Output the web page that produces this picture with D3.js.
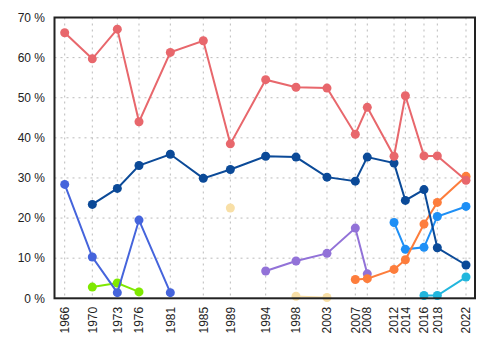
<!DOCTYPE html>
<html>
<head>
<meta charset="utf-8">
<script src="https://cdn.jsdelivr.net/npm/d3@7"></script>
<style>
body { margin: 0; background: #fff; }
text { font-family: "Liberation Sans", Arial, sans-serif; }
</style>
</head>
<body>
<script>
var width = 500;
var height = 350;
var margin = {top: 17.5, right: 25, bottom: 52, left: 54.5};

// election dates (approximate, read off the spacing of the x axis)
var dates = ["1966-07-01", "1970-05-08", "1973-11-02", "1976-11-10", "1981-03-25", "1985-10-30",
             "1989-08-08", "1994-07-13", "1998-10-05", "2003-01-30", "2007-01-12", "2008-09-13",
             "2012-06-07", "2014-01-05", "2016-08-11", "2018-06-21", "2022-06-21"];
var yTicks = [0, 10, 20, 30, 40, 50, 60, 70];

// one array per party, null = no result
var red      = [66.2, 59.7, 67.1, 44.0, 61.3, 64.2, 38.5, 54.5, 52.6, 52.4, 40.9, 47.6, 35.4, 50.5, 35.5, 35.5, 29.4];
var darkBlue = [null, 23.4, 27.4, 33.1, 35.9, 29.9, 32.1, 35.4, 35.2, 30.2, 29.2, 35.2, 33.7, 24.4, 27.1, 12.6, 8.3];
var royal    = [28.4, 10.3, 1.4, 19.5, 1.4, null, null, null, null, null, null, null, null, null, null, null, null];
var green    = [null, 2.8, 3.8, 1.6, null, null, null, null, null, null, null, null, null, null, null, null, null];
var wheat    = [null, null, null, null, null, null, 22.5, null, 0.5, 0.2, null, null, null, null, null, null, null];
var purple   = [null, null, null, null, null, null, null, 6.8, 9.3, 11.2, 17.5, 6.1, null, null, null, null, null];
var orange   = [null, null, null, null, null, null, null, null, null, null, 4.7, 4.9, 7.2, 9.6, 18.5, 23.9, 30.4];
var dodger   = [null, null, null, null, null, null, null, null, null, null, null, null, 18.9, 12.2, 12.7, 20.4, 22.9];
var cyan     = [null, null, null, null, null, null, null, null, null, null, null, null, null, null, 0.7, 0.7, 5.3];

var series = [
    {values: wheat, color: "#f8dfa6"},
    {values: green, color: "#7fe800"},
    {values: royal, color: "#4564dc"},
    {values: purple, color: "#9272d8"},
    {values: cyan, color: "#22b6dd"},
    {values: dodger, color: "#1e8ff5"},
    {values: orange, color: "#fd7d3c"},
    {values: darkBlue, color: "#0b4a98"},
    {values: red, color: "#e8676c"}
];

var parseDate = d3.timeParse("%Y-%m-%d");
var times = dates.map(parseDate);

var svg = d3.select("body").append("svg")
    .attr("width", width)
    .attr("height", height);

var xScale = d3.scaleTime()
    .domain(d3.extent(times))
    .range([64.7, 466]);

var yScale = d3.scaleLinear()
    .domain([0, 70])
    .range([height - margin.bottom + 0.3, margin.top]);

var x0 = margin.left, x1 = width - margin.right;
var y0 = yScale(0), y1 = yScale(70);

// grid
svg.append("g")
    .selectAll("line")
    .data(times)
    .enter().append("line")
    .attr("x1", function(d) { return xScale(d); })
    .attr("x2", function(d) { return xScale(d); })
    .attr("y1", y1)
    .attr("y2", y0)
    .attr("stroke", "#bbb")
    .attr("stroke-dasharray", "2,4");

svg.append("g")
    .selectAll("line")
    .data(yTicks.slice(1, -1))
    .enter().append("line")
    .attr("x1", x0)
    .attr("x2", x1)
    .attr("y1", function(d) { return yScale(d); })
    .attr("y2", function(d) { return yScale(d); })
    .attr("stroke", "#bbb")
    .attr("stroke-dasharray", "2,4");

// lines and points
var line = d3.line()
    .defined(function(d) { return d != null; })
    .x(function(d, i) { return xScale(times[i]); })
    .y(function(d) { return yScale(d); });

series.forEach(function(s) {
    var thin = s.values === wheat;
    svg.append("path")
        .datum(s.values)
        .attr("d", line)
        .attr("fill", "none")
        .attr("stroke", s.color)
        .attr("stroke-width", thin ? 1.5 : 2);

    svg.append("g")
        .selectAll("circle")
        .data(s.values.map(function(v, i) { return {v: v, t: times[i]}; })
            .filter(function(d) { return d.v != null; }))
        .enter().append("circle")
        .attr("cx", function(d) { return xScale(d.t); })
        .attr("cy", function(d) { return yScale(d.v); })
        .attr("r", 4.5)
        .attr("fill", s.color);
});

// frame
svg.append("rect")
    .attr("x", x0)
    .attr("y", y1)
    .attr("width", x1 - x0)
    .attr("height", y0 - y1)
    .attr("fill", "none")
    .attr("stroke", "#222")
    .attr("stroke-width", 2);

// y labels
svg.append("g")
    .selectAll("text")
    .data(yTicks)
    .enter().append("text")
    .attr("x", 45)
    .attr("y", function(d) { return yScale(d); })
    .attr("dy", "0.35em")
    .attr("text-anchor", "end")
    .attr("font-size", 12)
    .attr("fill", "#222")
    .text(function(d) { return d + " %"; });

// x labels
svg.append("g")
    .selectAll("text")
    .data(times)
    .enter().append("text")
    .attr("transform", function(d) {
        return "translate(" + xScale(d) + "," + (y0 + 8.5) + ") rotate(-90)";
    })
    .attr("dy", "0.35em")
    .attr("text-anchor", "end")
    .attr("font-size", 12)
    .attr("fill", "#222")
    .text(d3.timeFormat("%Y"));
</script>
</body>
</html>
